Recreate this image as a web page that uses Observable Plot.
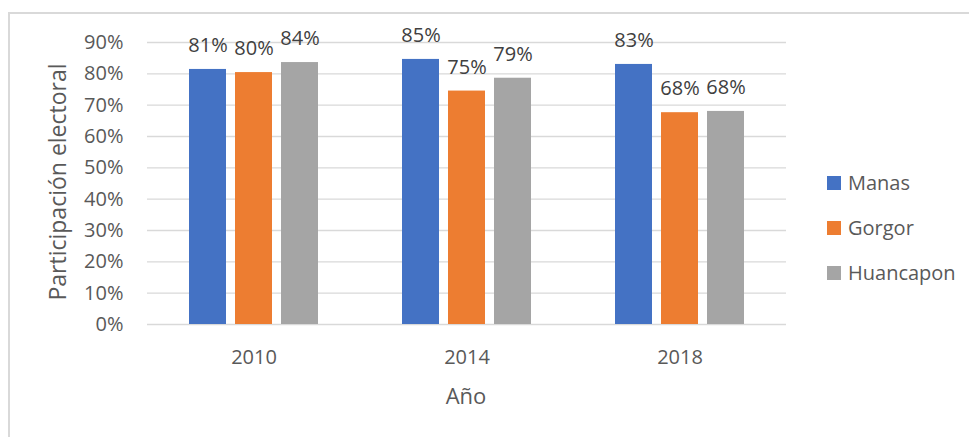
<!DOCTYPE html>
<html>
<head>
<meta charset="utf-8">
<script src="https://cdn.jsdelivr.net/npm/d3@7"></script>
<script src="https://cdn.jsdelivr.net/npm/@observablehq/plot@0.6"></script>
<style>
  html, body { margin: 0; padding: 0; background: #fff; overflow: hidden; }
  #wrap { position: relative; width: 969px; height: 437px; font-family: "Open Sans", sans-serif; color: #595959; }
  #wrap svg { position: absolute; left: 0; top: 0; background: transparent !important; }
  #border { position: absolute; left: 8px; top: 12px; width: 1000px; height: 500px;
            border-top: 2px solid #d9d9d9; border-left: 2px solid #d9d9d9; pointer-events: none; }
  .ytitle { position: absolute; left: 57px; top: 182px; transform: translate(-50%, -50%) rotate(-90deg);
            white-space: nowrap; font-size: 23px; }
  .xtitle { position: absolute; left: 466px; top: 380px; transform: translateX(-50%);
            white-space: nowrap; font-size: 22px; }
  #legend { position: absolute; left: 827px; top: 160px; font-size: 20px; }
  #legend .row { display: flex; align-items: center; height: 45px; }
  #legend .sw { width: 14px; height: 14px; margin-right: 7px; }
</style>
</head>
<body>
<div id="wrap"></div>
<script>
// ---- data ----
const years = ["2010", "2014", "2018"];
const series = ["Manas", "Gorgor", "Huancapon"];
const manas = [81.4, 84.6, 83.0];
const gorgor = [80.4, 74.5, 67.6];
const huancapon = [83.6, 78.6, 68.0];
const yTicks = [0, 10, 20, 30, 40, 50, 60, 70, 80, 90];
const colors = ["#4472C4", "#ED7D31", "#A5A5A5"];
const yTitle = "Participación electoral";
const xTitle = "Año";

const seriesValues = [manas, gorgor, huancapon];
const table = years.flatMap((year, i) =>
  series.map((s, j) => ({year, series: s, value: seriesValues[j][i]}))
);

const chart = Plot.plot({
  width: 969,
  height: 437,
  marginLeft: 146,
  marginRight: 183,
  marginTop: 42,
  marginBottom: 113,
  style: {fontFamily: "Open Sans, sans-serif", fontSize: "20px", color: "#595959", background: "transparent"},
  facet: {data: table, x: "year"},
  fx: {domain: years, padding: 0, axis: "bottom", tickSize: 0, tickPadding: 25, label: null},
  x: {domain: series, paddingInner: 0.2, paddingOuter: 0.9, axis: null},
  y: {domain: [0, 90], ticks: yTicks, tickFormat: d => d + "%", tickSize: 0, tickPadding: 24, label: null},
  color: {domain: series, range: colors},
  marks: [
    Plot.ruleY(yTicks, {stroke: "#D9D9D9", strokeWidth: 1.3}),
    Plot.barY(table, {x: "series", y: "value", fill: "series"}),
    Plot.text(table, {x: "series", y: "value", text: d => Math.round(d.value) + "%",
      lineAnchor: "bottom", dy: -17.5, fill: "#404040", fontSize: 20})
  ]
});

const wrap = document.getElementById("wrap");
wrap.appendChild(chart);

const yt = document.createElement("div");
yt.className = "ytitle"; yt.textContent = yTitle; wrap.appendChild(yt);
const xt = document.createElement("div");
xt.className = "xtitle"; xt.textContent = xTitle; wrap.appendChild(xt);

const legend = document.createElement("div");
legend.id = "legend";
series.forEach((s, i) => {
  const row = document.createElement("div"); row.className = "row";
  const sw = document.createElement("div"); sw.className = "sw"; sw.style.background = colors[i];
  const lb = document.createElement("span"); lb.textContent = s;
  row.appendChild(sw); row.appendChild(lb); legend.appendChild(row);
});
wrap.appendChild(legend);

const border = document.createElement("div");
border.id = "border"; wrap.appendChild(border);
</script>
</body>
</html>
